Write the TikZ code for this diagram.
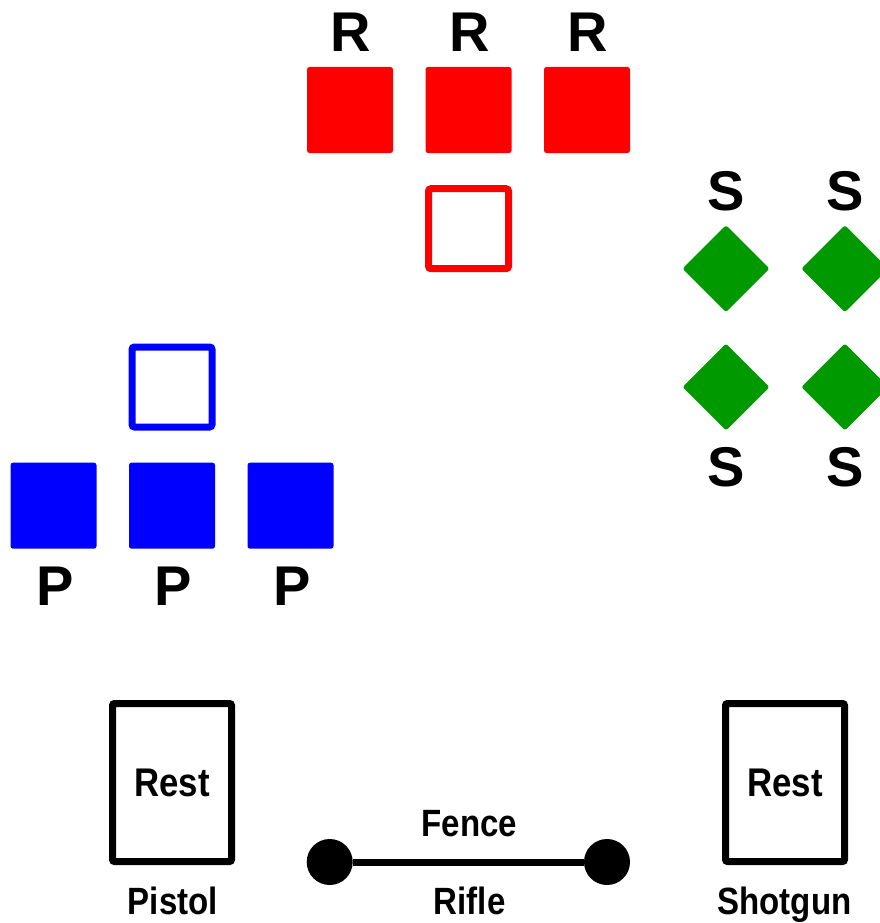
\documentclass[tikz,border=0pt]{standalone}
\usepackage{fontspec}
\setmainfont{Liberation Sans}
\newfontfamily\narrowfont{Liberation Sans}[FakeStretch=0.87]
\definecolor{rifleRed}{RGB}{255,0,0}
\definecolor{pistolBlue}{RGB}{0,0,255}
\definecolor{shotGreen}{RGB}{0,153,0}
\begin{document}
\begin{tikzpicture}[x=1pt,y=-1pt,
  target/.style={inner sep=0pt, outer sep=0pt, minimum size=86pt, rounded corners=2.5pt},
  hold/.style={draw, line width=7pt, inner sep=0pt, minimum size=80pt, rounded corners=2.5pt, fill=white},
  plate/.style={inner sep=0pt, outer sep=0pt, minimum size=61.5pt, rotate=45, rounded corners=2.5pt, fill=shotGreen},
  bigtag/.style={anchor=base, inner sep=0pt, font=\bfseries\fontsize{56}{60}\selectfont},
  smalltag/.style={anchor=base, inner sep=0pt, font=\narrowfont\bfseries\fontsize{38}{42}\selectfont},
  rest/.style={draw, line width=7pt, minimum width=119pt, minimum height=158pt, rounded corners=2pt, inner sep=0pt,
    font=\narrowfont\bfseries\fontsize{40}{44}\selectfont},
  post/.style={circle, fill=black, inner sep=0pt, minimum size=46pt}]
\useasboundingbox (0,0) rectangle (880,923);

% rifle targets
\node[target, fill=rifleRed] (r1) at (350,110) {};
\node[target, fill=rifleRed] (r2) at (468.5,110) {};
\node[target, fill=rifleRed] (r3) at (587,110) {};
\node[hold, draw=rifleRed] (rh) at (468.5,228.7) {};
\node[bigtag] (rl1) at (351,51.7) {R};
\node[bigtag] (rl2) at (469.5,51.7) {R};
\node[bigtag] (rl3) at (588,51.7) {R};

% pistol targets
\node[target, fill=pistolBlue] (p1) at (53.5,505.7) {};
\node[target, fill=pistolBlue] (p2) at (172,505.7) {};
\node[target, fill=pistolBlue] (p3) at (290.5,505.7) {};
\node[hold, draw=pistolBlue] (ph) at (172,387) {};
\node[bigtag] (pl1) at (55,605) {P};
\node[bigtag] (pl2) at (173,605) {P};
\node[bigtag] (pl3) at (292,605) {P};

% shotgun plates
\node[plate] (s1) at (726,268.7) {};
\node[plate] (s2) at (844.8,268.7) {};
\node[plate] (s3) at (726,387) {};
\node[plate] (s4) at (844.8,387) {};
\node[bigtag] (sl1) at (726.5,210) {S};
\node[bigtag] (sl2) at (845,210) {S};
\node[bigtag] (sl3) at (726.5,486.7) {S};
\node[bigtag] (sl4) at (845,486.7) {S};

% shooting positions
\node[rest] (restP) at (172,782.5) {Rest};
\node[rest] (restS) at (785,782.5) {Rest};
\node[post] (f1) at (329.7,862) {};
\node[post] (f2) at (607,862) {};
\draw[line width=7pt] (f1) -- (f2);
\node[smalltag] (fence) at (469.5,836.7) {Fence};
\node[smalltag] (lp) at (172.8,914.5) {Pistol};
\node[smalltag] (lr) at (469.7,914.5) {Rifle};
\node[smalltag] (ls) at (784.5,914.5) {Shotgun};
\end{tikzpicture}
\end{document}
